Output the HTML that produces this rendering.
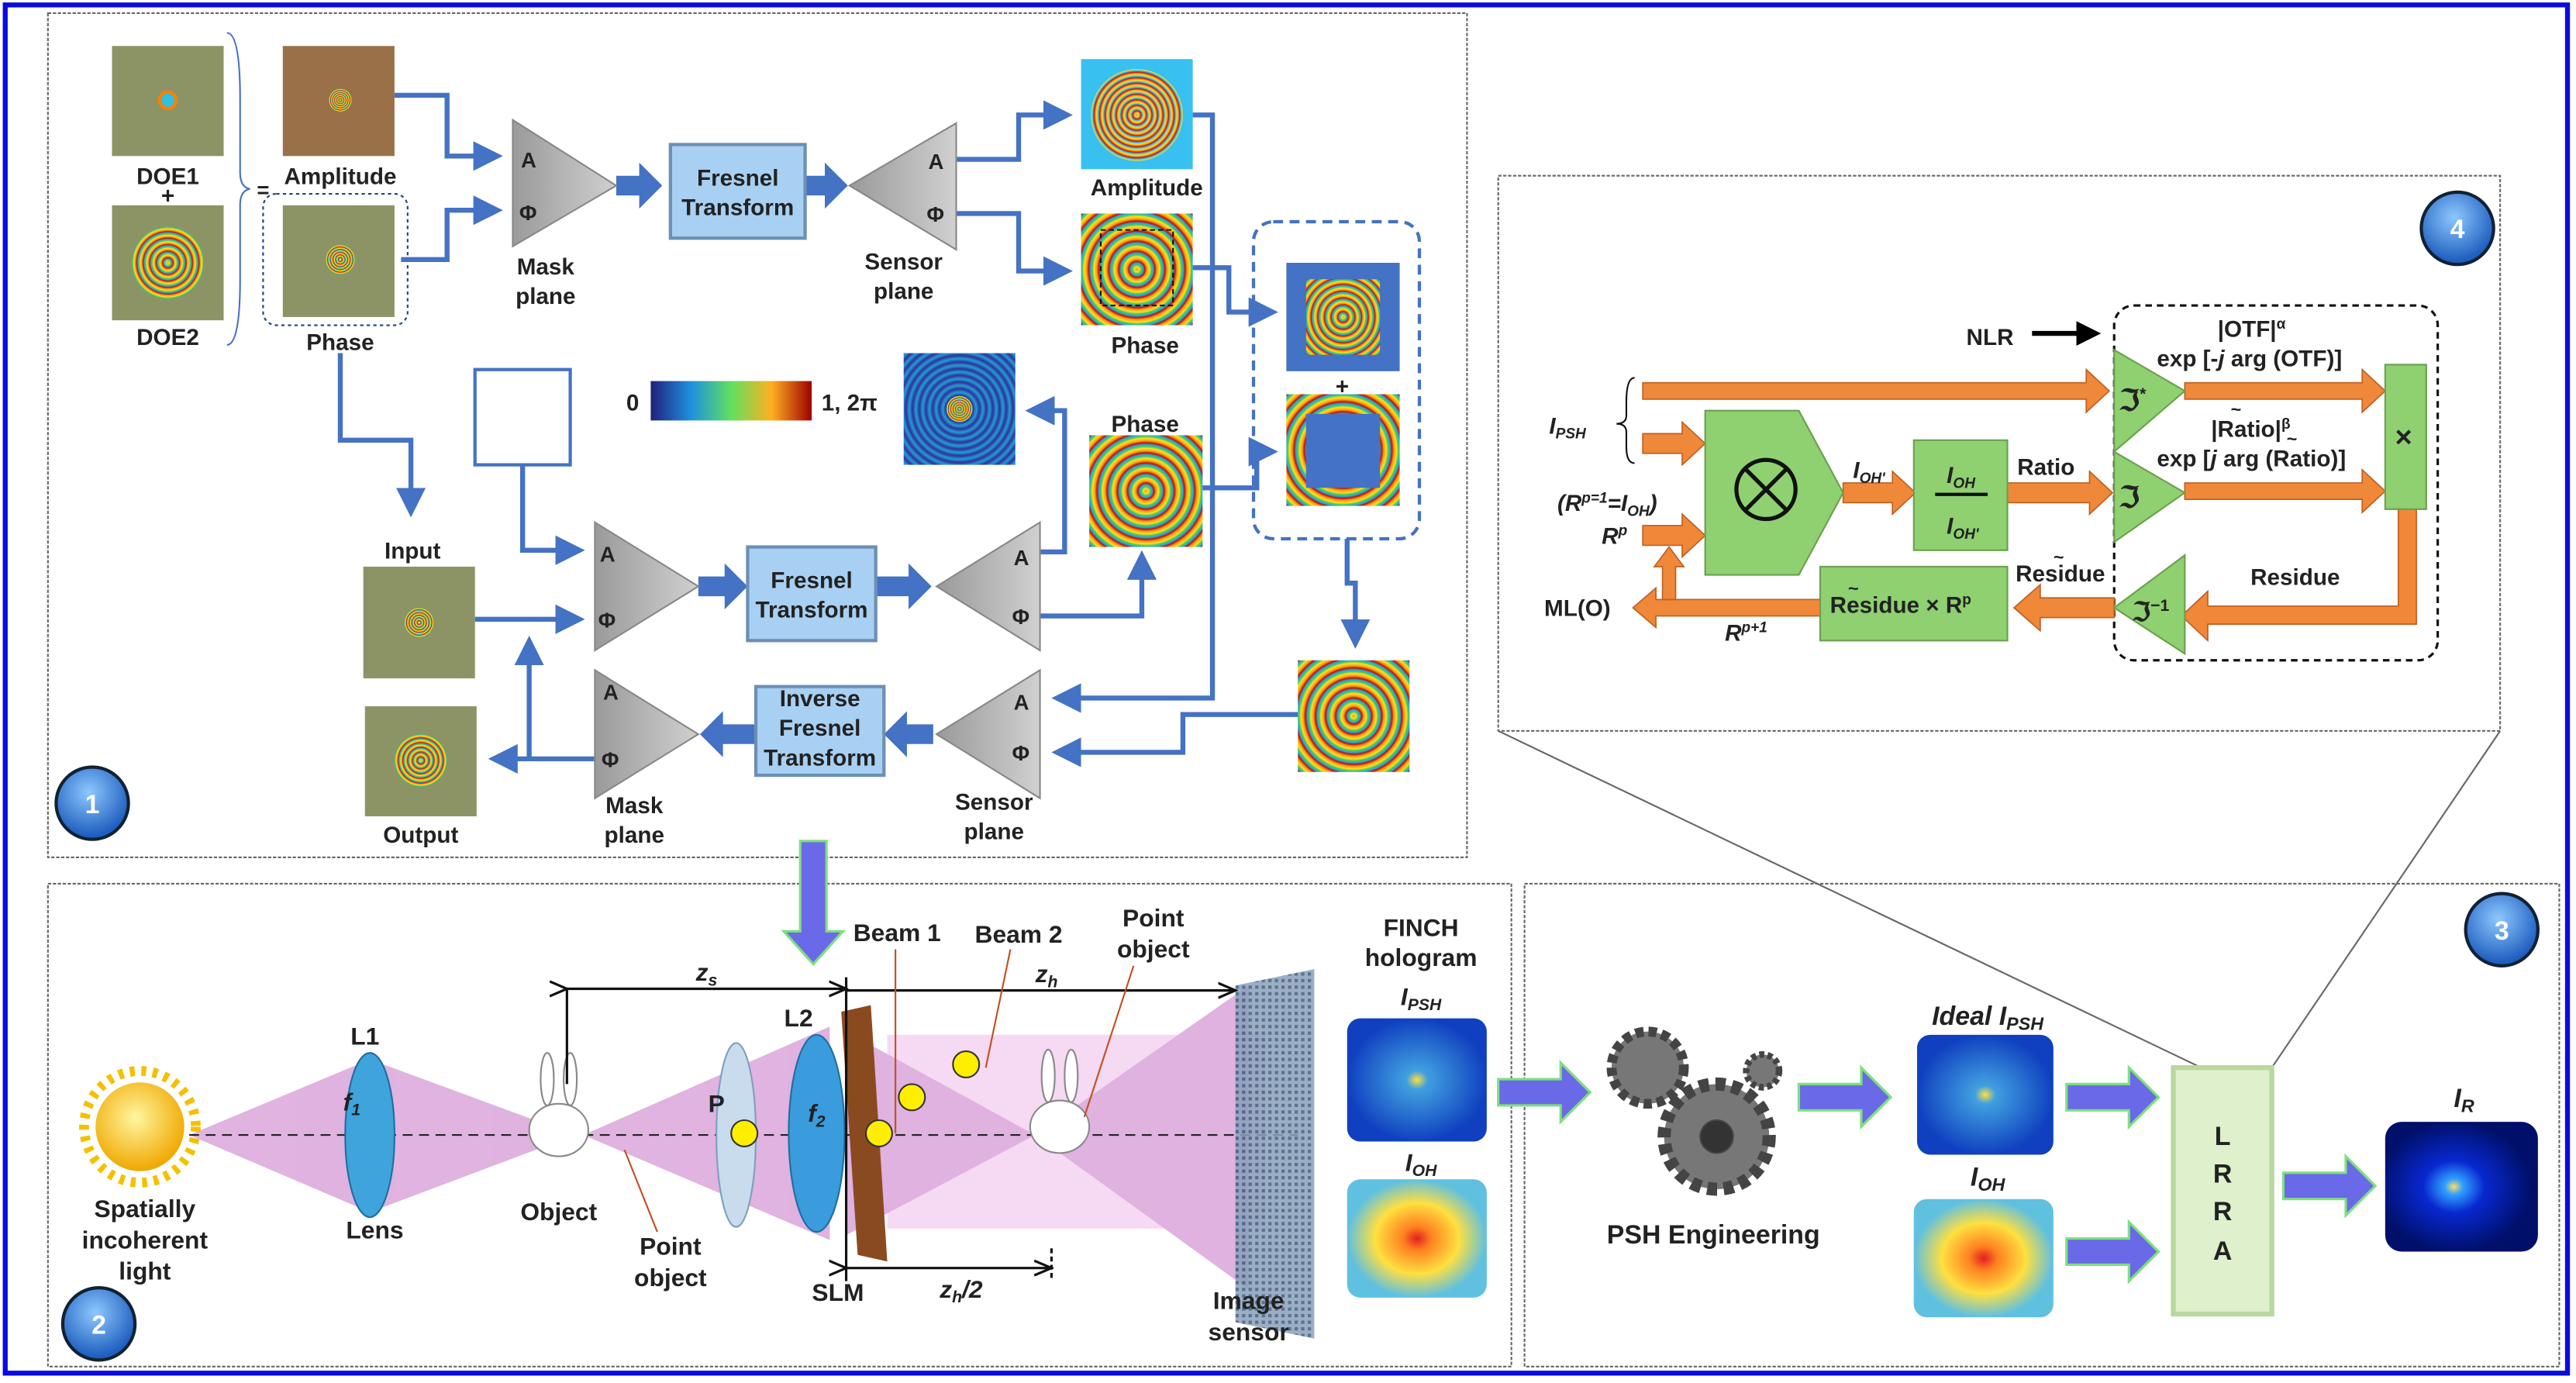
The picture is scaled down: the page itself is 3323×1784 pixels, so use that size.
<!DOCTYPE html>
<html><head><meta charset="utf-8"><style>
html,body{margin:0;padding:0;background:#fff}
svg{display:block}
text{font-family:"Liberation Sans",sans-serif;font-weight:bold;fill:#222}
</style></head><body>
<svg width="3323" height="1784" viewBox="0 0 1568 842" xmlns="http://www.w3.org/2000/svg">
<defs>
<radialGradient id="rb" cx=".5" cy=".5" r=".09" spreadMethod="repeat">
<stop offset="0" stop-color="#ff9a10"/><stop offset=".25" stop-color="#ffe020"/><stop offset=".45" stop-color="#40c860"/><stop offset=".6" stop-color="#20b0e0"/><stop offset=".8" stop-color="#c01010"/><stop offset="1" stop-color="#ff9a10"/></radialGradient>
<radialGradient id="rb2" cx=".5" cy=".5" r=".06" spreadMethod="repeat">
<stop offset="0" stop-color="#30c0f0"/><stop offset=".3" stop-color="#ffe020"/><stop offset=".55" stop-color="#ff8010"/><stop offset=".75" stop-color="#c01010"/><stop offset="1" stop-color="#30c0f0"/></radialGradient>
<radialGradient id="dk" cx=".5" cy=".5" r=".06" spreadMethod="repeat">
<stop offset="0" stop-color="#3030a0"/><stop offset=".5" stop-color="#20a0d0"/><stop offset="1" stop-color="#3030a0"/></radialGradient>
<radialGradient id="bl" cx=".5" cy=".5" r=".5"><stop offset="0" stop-color="#ffe040"/><stop offset=".15" stop-color="#40a0e0"/><stop offset="1" stop-color="#1040c0"/></radialGradient>
<radialGradient id="yl" cx=".5" cy=".5" r=".5"><stop offset="0" stop-color="#e02020"/><stop offset=".2" stop-color="#ff8020"/><stop offset=".6" stop-color="#ffe040"/><stop offset="1" stop-color="#60c0e0"/></radialGradient>
<radialGradient id="ir" cx=".45" cy=".5" r=".5"><stop offset="0" stop-color="#ffe060"/><stop offset=".12" stop-color="#30a0ff"/><stop offset=".4" stop-color="#0828d0"/><stop offset="1" stop-color="#00106a"/></radialGradient>
<radialGradient id="sun" cx=".45" cy=".4" r=".6"><stop offset="0" stop-color="#fff6a0"/><stop offset="1" stop-color="#f0a800"/></radialGradient>
<linearGradient id="cb" x1="0" x2="1"><stop offset="0" stop-color="#20207a"/><stop offset=".25" stop-color="#2090e0"/><stop offset=".5" stop-color="#60e060"/><stop offset=".75" stop-color="#ffb020"/><stop offset="1" stop-color="#a00000"/></linearGradient>
<linearGradient id="tri" x1="0" x2="1"><stop offset="0" stop-color="#9a9a9a"/><stop offset="1" stop-color="#d0d0d0"/></linearGradient>
<radialGradient id="circ" cx=".45" cy=".35" r=".6"><stop offset="0" stop-color="#8ec8ff"/><stop offset="1" stop-color="#1f5fbf"/></radialGradient>
<pattern id="mesh" width="4" height="4" patternUnits="userSpaceOnUse"><rect width="4" height="4" fill="#8aa0b8"/><rect width="2" height="2" fill="#3a5a80"/></pattern>
<marker id="ah" markerWidth="6" markerHeight="6" refX="5" refY="3" orient="auto" markerUnits="strokeWidth"><path d="M0,0 L6,3 L0,6 z" fill="#4472c4"/></marker>
<marker id="bk" markerWidth="5" markerHeight="5" refX="4" refY="2.5" orient="auto" markerUnits="strokeWidth"><path d="M0,0 L5,2.5 L0,5 z" fill="#000"/></marker>
<marker id="ak" markerWidth="8" markerHeight="8" refX="7" refY="4" orient="auto" markerUnits="strokeWidth"><path d="M0,1 L7,4 L0,7" fill="none" stroke="#111" stroke-width="1"/></marker>
</defs>

<rect x="3" y="3" width="1560" height="833" fill="#fff" stroke="#0a0ae0" stroke-width="3"/>
<g fill="none" stroke="#666" stroke-width="1" stroke-dasharray="2,1">
<rect x="29" y="8" width="864" height="514"/>
<rect x="29" y="538" width="891" height="294"/>
<rect x="928" y="538" width="630" height="294"/>
<rect x="912" y="107" width="610" height="338"/>
</g>
<line x1="912" y1="445" x2="1340" y2="650" stroke="#666"/>
<line x1="1522" y1="445" x2="1383" y2="650" stroke="#666"/>

<!-- PANEL 1 -->
<g>
<rect x="68" y="28" width="68" height="67" fill="#8c9466"/><circle cx="102" cy="61" r="5" fill="#30c0e0" stroke="#ff8000" stroke-width="2"/>
<rect x="68" y="125" width="68" height="70" fill="#8c9466"/><circle cx="102" cy="160" r="22" fill="url(#rb)"/>
<rect x="172" y="28" width="68" height="67" fill="#9a7048"/><circle cx="207" cy="61" r="7" fill="url(#rb)"/>
<rect x="172" y="125" width="68" height="68" fill="#8c9466"/><circle cx="207" cy="158" r="9" fill="url(#rb)"/>
<rect x="160" y="118" width="88" height="80" rx="8" fill="none" stroke="#1f3f8f" stroke-dasharray="2,2"/>
<path d="M138,20 Q146,20 146,60 L146,105 Q146,114 152,115 Q146,116 146,125 L146,170 Q146,210 138,210" fill="none" stroke="#4472c4"/>
<text x="102" y="112" font-size="14" text-anchor="middle">DOE1</text>
<text x="102" y="124" font-size="14" text-anchor="middle">+</text>
<text x="102" y="210" font-size="14" text-anchor="middle">DOE2</text>
<text x="160" y="120" font-size="13" text-anchor="middle">=</text>
<text x="207" y="112" font-size="14" text-anchor="middle">Amplitude</text>
<text x="207" y="213" font-size="14" text-anchor="middle">Phase</text>
</g>
<g fill="none" stroke="#4472c4" stroke-width="3">
<polyline points="240,58 272,58 272,95 303,95" marker-end="url(#ah)"/>
<polyline points="244,158 272,158 272,128 303,128" marker-end="url(#ah)"/>
<polyline points="582,97 620,97 620,70 650,70" marker-end="url(#ah)"/>
<polyline points="582,130 620,130 620,165 650,165" marker-end="url(#ah)"/>
<polyline points="726,70 738,70 738,425 643,425" marker-end="url(#ah)"/>
<polyline points="726,163 748,163 748,190 775,190" marker-end="url(#ah)"/>
<polyline points="732,297 765,297 765,275 775,275" marker-end="url(#ah)"/>
<polyline points="820,328 820,355 825,355 825,392" marker-end="url(#ah)"/>
<polyline points="790,435 720,435 720,458 643,458" marker-end="url(#ah)"/>
<polyline points="633,336 648,336 648,250 627,250" marker-end="url(#ah)"/>
<polyline points="318,283 318,335 353,335" marker-end="url(#ah)"/>
<polyline points="207,215 207,268 250,268 250,312" marker-end="url(#ah)"/>
<polyline points="289,377 353,377" marker-end="url(#ah)"/>
<polyline points="633,375 695,375 695,338" marker-end="url(#ah)"/>
<polyline points="362,462 300,462" marker-end="url(#ah)"/>
<polyline points="322,462 322,390" marker-end="url(#ah)"/>
</g>
<g fill="#4472c4">
<path d="M375,107 h14 v-8 l14,14 l-14,14 v-8 h-14z"/>
<path d="M490,107 h12 v-8 l14,14 l-14,14 v-8 h-12z"/>
<path d="M425,351 h16 v-8 l14,14 l-14,14 v-8 h-16z"/>
<path d="M533,351 h20 v-8 l14,14 l-14,14 v-8 h-20z"/>
<path d="M568,441 h-16 v-8 l-14,14 l14,14 v-8 h16z"/>
<path d="M460,441 h-20 v-8 l-14,14 l14,14 v-8 h20z"/>
</g>
<g stroke="#888" stroke-width="1">
<polygon points="312,73 312,150 375,113" fill="url(#tri)"/>
<polygon points="517,113 582,75 582,152" fill="url(#tri)"/>
<polygon points="362,318 362,396 425,357" fill="url(#tri)"/>
<polygon points="570,357 633,318 633,396" fill="url(#tri)"/>
<polygon points="362,408 362,486 425,447" fill="url(#tri)"/>
<polygon points="570,447 633,408 633,486" fill="url(#tri)"/>
</g>
<g font-size="13">
<text x="317" y="102">A</text><text x="316" y="134">Φ</text>
<text x="565" y="103">A</text><text x="564" y="135">Φ</text>
<text x="365" y="342">A</text><text x="364" y="382">Φ</text>
<text x="617" y="344">A</text><text x="616" y="380">Φ</text>
<text x="367" y="426">A</text><text x="366" y="467">Φ</text>
<text x="617" y="432">A</text><text x="616" y="463">Φ</text>
</g>
<g stroke="#6d8fb5" stroke-width="2" fill="#a8d0f2">
<rect x="408" y="88" width="82" height="57"/>
<rect x="455" y="333" width="78" height="57"/>
<rect x="460" y="418" width="78" height="54"/>
</g>
<g font-size="14" text-anchor="middle">
<text x="449" y="113">Fresnel</text><text x="449" y="131">Transform</text>
<text x="494" y="358">Fresnel</text><text x="494" y="376">Transform</text>
<text x="499" y="430">Inverse</text><text x="499" y="448">Fresnel</text><text x="499" y="466">Transform</text>
<text x="332" y="167">Mask</text><text x="332" y="185">plane</text>
<text x="550" y="164">Sensor</text><text x="550" y="182">plane</text>
<text x="386" y="495">Mask</text><text x="386" y="513">plane</text>
<text x="605" y="493">Sensor</text><text x="605" y="511">plane</text>
<text x="698" y="119">Amplitude</text>
<text x="697" y="215">Phase</text>
<text x="697" y="263">Phase</text>
<text x="251" y="340">Input</text>
<text x="256" y="513">Output</text>
<text x="385" y="250">0</text>
<text x="517" y="250">1, 2π</text>
<text x="817" y="240">+</text>
</g>
<rect x="658" y="36" width="68" height="67" fill="#38c0f0"/><circle cx="692" cy="70" r="28" fill="url(#rb2)"/>
<rect x="658" y="130" width="68" height="68" fill="url(#rb)"/><rect x="670" y="140" width="44" height="46" fill="none" stroke="#111" stroke-dasharray="3,2"/>
<rect x="663" y="265" width="69" height="68" fill="url(#rb)"/>
<rect x="763" y="135" width="101" height="193" rx="12" fill="none" stroke="#4472c4" stroke-width="2" stroke-dasharray="6,4"/>
<rect x="783" y="160" width="69" height="66" fill="#4472c4"/><rect x="795" y="170" width="45" height="46" fill="url(#rb)"/>
<rect x="783" y="240" width="69" height="68" fill="url(#rb)"/><rect x="795" y="252" width="45" height="45" fill="#4472c4"/>
<rect x="790" y="402" width="68" height="68" fill="url(#rb)"/>
<rect x="396" y="232" width="98" height="24" fill="url(#cb)"/>
<rect x="550" y="215" width="68" height="68" fill="url(#dk)"/><circle cx="584" cy="249" r="8" fill="url(#rb)"/>
<rect x="289" y="225" width="58" height="58" fill="#fff" stroke="#4472c4" stroke-width="2"/>
<rect x="221" y="345" width="68" height="68" fill="#8c9466"/><circle cx="255" cy="379" r="9" fill="url(#rb)"/>
<rect x="222" y="430" width="68" height="67" fill="#8c9466"/><circle cx="256" cy="463" r="16" fill="url(#rb)"/>
<circle cx="56" cy="489" r="22" fill="url(#circ)" stroke="#123" stroke-width="2"/><text x="56" y="495" font-size="16" text-anchor="middle" style="fill:#fff">1</text>

<!-- PANEL 2 -->
<path d="M487,512 h16 v55 h10 l-18,20 l-18,-20 h10z" fill="#6a6ae8" stroke="#7ee07e" stroke-width="1.5"/>
<g fill="#d8a0d8" opacity=".8">
<polygon points="115,691 225,645 225,738"/>
<polygon points="225,645 225,738 350,691"/>
<polygon points="355,691 505,625 505,755"/>
<rect x="540" y="630" width="230" height="118" fill="#f4d0f0"/>
<polygon points="515,628 515,752 630,691"/>
<polygon points="630,691 760,600 760,785"/>
</g>
<line x1="115" y1="691" x2="790" y2="691" stroke="#222" stroke-dasharray="6,4"/>
<circle cx="85" cy="686" r="34" fill="none" stroke="#f5c000" stroke-width="6" stroke-dasharray="3,4"/>
<circle cx="85" cy="686" r="27" fill="url(#sun)"/>
<ellipse cx="225" cy="691" rx="15" ry="50" fill="#40a4dc" stroke="#1f6fa0"/>
<ellipse cx="448" cy="691" rx="12" ry="56" fill="#c8dcee" stroke="#7f9fbf"/>
<ellipse cx="497" cy="690" rx="17" ry="60" fill="#3a9cdc" stroke="#1f6fa0"/>
<polygon points="512,616 530,612 540,768 522,764" fill="#8a4a20"/>
<g fill="#fff" stroke="#888">
<ellipse cx="340" cy="688" rx="18" ry="16"/><ellipse cx="333" cy="657" rx="4" ry="16"/><ellipse cx="347" cy="657" rx="4" ry="16"/>
<ellipse cx="645" cy="686" rx="18" ry="16"/><ellipse cx="638" cy="655" rx="4" ry="16"/><ellipse cx="652" cy="655" rx="4" ry="16"/>
</g>
<g fill="#ffee00" stroke="#333">
<circle cx="453" cy="690" r="8"/><circle cx="535" cy="690" r="8"/><circle cx="555" cy="668" r="8"/><circle cx="588" cy="648" r="8"/>
</g>
<polygon points="752,600 800,590 800,815 752,805" fill="url(#mesh)" opacity=".85"/>
<g stroke="#111" stroke-width="1.5" fill="none">
<line x1="345" y1="602" x2="515" y2="602" marker-end="url(#ak)" marker-start="url(#ak)"/>
<line x1="515" y1="603" x2="752" y2="603" marker-end="url(#ak)"/>
<line x1="515" y1="772" x2="640" y2="772" marker-end="url(#ak)" marker-start="url(#ak)"/>
<line x1="345" y1="602" x2="345" y2="660"/><line x1="515" y1="595" x2="515" y2="780"/><line x1="640" y1="760" x2="640" y2="780" stroke-dasharray="3,2"/>
</g>
<g stroke="#c05020" stroke-width="1"><line x1="545" y1="578" x2="545" y2="690"/><line x1="615" y1="578" x2="600" y2="650"/><line x1="690" y1="588" x2="660" y2="680"/><line x1="380" y1="700" x2="400" y2="750"/></g>
<g font-size="15" text-anchor="middle">
<text x="88" y="741">Spatially</text><text x="88" y="760">incoherent</text><text x="88" y="779">light</text>
<text x="222" y="636">L1</text><text x="214" y="676" font-style="italic">f<tspan font-size="10" dy="3">1</tspan></text><text x="228" y="754">Lens</text>
<text x="340" y="743">Object</text><text x="408" y="764">Point</text><text x="408" y="783">object</text>
<text x="436" y="677">P</text><text x="486" y="625">L2</text><text x="497" y="683" font-style="italic">f<tspan font-size="10" dy="3">2</tspan></text>
<text x="510" y="792">SLM</text>
<text x="430" y="597" font-style="italic">z<tspan font-size="10" dy="3">s</tspan></text>
<text x="637" y="598" font-style="italic">z<tspan font-size="10" dy="3">h</tspan></text>
<text x="585" y="790" font-style="italic">z<tspan font-size="10" dy="3">h</tspan><tspan dy="-3">/2</tspan></text>
<text x="546" y="573">Beam 1</text><text x="620" y="574">Beam 2</text>
<text x="702" y="564">Point</text><text x="702" y="583">object</text>
<text x="760" y="797">Image</text><text x="760" y="816">sensor</text>
<text x="865" y="570">FINCH</text><text x="865" y="588">hologram</text>
<text x="865" y="612" font-style="italic">I<tspan font-size="10" dy="3">PSH</tspan></text>
<text x="865" y="713" font-style="italic">I<tspan font-size="10" dy="3">OH</tspan></text>
</g>
<rect x="820" y="620" width="85" height="75" rx="8" fill="url(#bl)"/>
<rect x="820" y="718" width="85" height="72" rx="8" fill="url(#yl)"/>
<circle cx="60" cy="806" r="22" fill="url(#circ)" stroke="#123" stroke-width="2"/><text x="60" y="812" font-size="16" text-anchor="middle" style="fill:#fff">2</text>

<!-- PANEL 3 -->
<g fill="#6a6ae8" stroke="#7ee07e" stroke-width="1.5">
<path d="M912,657 h38 v-10 l18,18 l-18,18 v-10 h-38z"/>
<path d="M1095,660 h38 v-10 l18,18 l-18,18 v-10 h-38z"/>
<path d="M1258,660 h38 v-10 l18,18 l-18,18 v-10 h-38z"/>
<path d="M1258,754 h38 v-10 l18,18 l-18,18 v-10 h-38z"/>
<path d="M1390,714 h38 v-10 l18,18 l-18,18 v-10 h-38z"/>
</g>
<g fill="#777" stroke="#444">
<circle cx="1003" cy="650" r="22" stroke-dasharray="5,3" stroke-width="6"/>
<circle cx="1045" cy="692" r="32" stroke-dasharray="6,4" stroke-width="8"/>
<circle cx="1045" cy="692" r="10" fill="#333"/>
<circle cx="1073" cy="652" r="10" stroke-dasharray="3,2" stroke-width="4"/>
</g>
<text x="1043" y="757" font-size="16" text-anchor="middle">PSH Engineering</text>
<text x="1210" y="624" font-size="16" text-anchor="middle" font-style="italic">Ideal I<tspan font-size="11" dy="3">PSH</tspan></text>
<text x="1210" y="722" font-size="16" text-anchor="middle" font-style="italic">I<tspan font-size="11" dy="3">OH</tspan></text>
<rect x="1167" y="630" width="83" height="73" rx="8" fill="url(#bl)"/>
<rect x="1165" y="730" width="85" height="72" rx="8" fill="url(#yl)"/>
<rect x="1323" y="650" width="60" height="150" fill="#dff0cc" stroke="#b9d8a0" stroke-width="3"/>
<g font-size="16" text-anchor="middle"><text x="1353" y="697">L</text><text x="1353" y="720">R</text><text x="1353" y="743">R</text><text x="1353" y="767">A</text></g>
<text x="1500" y="674" font-size="16" text-anchor="middle" font-style="italic">I<tspan font-size="11" dy="3">R</tspan></text>
<rect x="1452" y="683" width="93" height="79" rx="10" fill="url(#ir)"/>
<circle cx="1523" cy="566" r="22" fill="url(#circ)" stroke="#123" stroke-width="2"/><text x="1523" y="572" font-size="16" text-anchor="middle" style="fill:#fff">3</text>

<!-- PANEL 4 -->
<circle cx="1496" cy="139" r="22" fill="url(#circ)" stroke="#123" stroke-width="2"/><text x="1496" y="145" font-size="16" text-anchor="middle" style="fill:#fff">4</text>
<rect x="1287" y="186" width="197" height="216" rx="12" fill="none" stroke="#111" stroke-width="1.5" stroke-dasharray="4,3"/>
<g fill="#f0883a" stroke="#c06020" stroke-width=".8">
<path d="M1000,233 h270 v-8 l14,13 l-14,13 v-8 h-270z"/>
<path d="M1000,264 h24 v-7 l14,13 l-14,13 v-7 h-24z"/>
<path d="M1000,320 h24 v-7 l14,13 l-14,13 v-7 h-24z"/>
<path d="M1122,294 h30 v-7 l14,13 l-14,13 v-7 h-30z"/>
<path d="M1222,294 h50 v-7 l14,13 l-14,13 v-7 h-50z"/>
<path d="M1330,233 h108 v-8 l14,13 l-14,13 v-8 h-108z"/>
<path d="M1330,294 h108 v-8 l14,13 l-14,13 v-8 h-108z"/>
<path d="M1460,310 h11 v70 h-127 v10 l-16,-15 l16,-15 v9 h116z"/>
<path d="M1287,364 h-45 v-8 l-16,14 l16,14 v-8 h45z"/>
<path d="M1108,365 h-100 v-7 l-14,12 l14,12 v-7 h100z"/>
<path d="M1012,365 v-20 h-5 l9,-12 l9,12 h-5 v20z"/>
</g>
<path d="M995,230 Q990,230 990,245 L990,253 Q990,258 984,258 Q990,258 990,263 L990,272 Q990,282 995,282" fill="none" stroke="#111"/>
<g fill="#8fd070" stroke="#6aa050">
<path d="M1038,250 h57 l27,50 l-27,50 h-57z"/>
<rect x="1165" y="268" width="57" height="67"/>
<rect x="1452" y="222" width="25" height="88"/>
<rect x="1108" y="345" width="114" height="45"/>
<polygon points="1287,213 1287,275 1330,238"/>
<polygon points="1287,275 1287,330 1330,300"/>
<polygon points="1330,338 1287,370 1330,398"/>
</g>
<circle cx="1075" cy="298" r="18" fill="none" stroke="#111" stroke-width="2.5"/>
<path d="M1063,286 L1087,310 M1087,286 L1063,310" stroke="#111" stroke-width="2.5"/>
<line x1="1178" y1="301" x2="1210" y2="301" stroke="#111" stroke-width="2"/>
<line x1="1237" y1="203" x2="1276" y2="203" stroke="#000" stroke-width="3" marker-end="url(#bk)"/>
<g font-size="14">
<text x="943" y="264" font-style="italic">I<tspan font-size="9" dy="3">PSH</tspan></text>
<text x="948" y="311" font-style="italic">(R<tspan font-size="9" dy="-5">p=1</tspan><tspan dy="5">=I</tspan><tspan font-size="9" dy="3">OH</tspan><tspan dy="-3">)</tspan></text>
<text x="975" y="331" font-style="italic">R<tspan font-size="9" dy="-5">p</tspan></text>
<text x="940" y="375">ML(O)</text>
<text x="1050" y="390" font-style="italic">R<tspan font-size="9" dy="-5">p+1</tspan></text>
<text x="1128" y="291" font-style="italic">I<tspan font-size="9" dy="3">OH'</tspan></text>
<text x="1185" y="294" font-style="italic">I<tspan font-size="9" dy="3">OH</tspan></text>
<text x="1185" y="325" font-style="italic">I<tspan font-size="9" dy="3">OH'</tspan></text>
<text x="1228" y="289">Ratio</text>
<text x="1227" y="354">Residue</text><text x="1250" y="343" font-size="11">~</text>
<text x="1114" y="373">Residue × R<tspan font-size="9" dy="-5">p</tspan></text><text x="1125" y="362" font-size="11">~</text>
<text x="1370" y="356">Residue</text>
<text x="1197" y="210">NLR</text>
<text x="1350" y="205">|OTF|<tspan font-size="9" dy="-5">α</tspan></text>
<text x="1313" y="223">exp [-<tspan font-style="italic">j</tspan> arg (OTF)]</text>
<text x="1346" y="266">|Ratio|<tspan font-size="9" dy="-5">β</tspan></text><text x="1358" y="253" font-size="11">~</text>
<text x="1313" y="284">exp [<tspan font-style="italic">j</tspan> arg (Ratio)]</text><text x="1392" y="271" font-size="11">~</text>
<text x="1458" y="272" font-size="18">×</text>
<text x="1290" y="250" font-family="Liberation Serif" font-size="18">ℑ<tspan font-size="10" dy="-7">*</tspan></text>
<text x="1290" y="309" font-family="Liberation Serif" font-size="18">ℑ</text>
<text x="1298" y="378" font-family="Liberation Serif" font-size="16">ℑ<tspan font-size="10" dy="-6">−1</tspan></text>
</g>
</svg>
</body></html>
